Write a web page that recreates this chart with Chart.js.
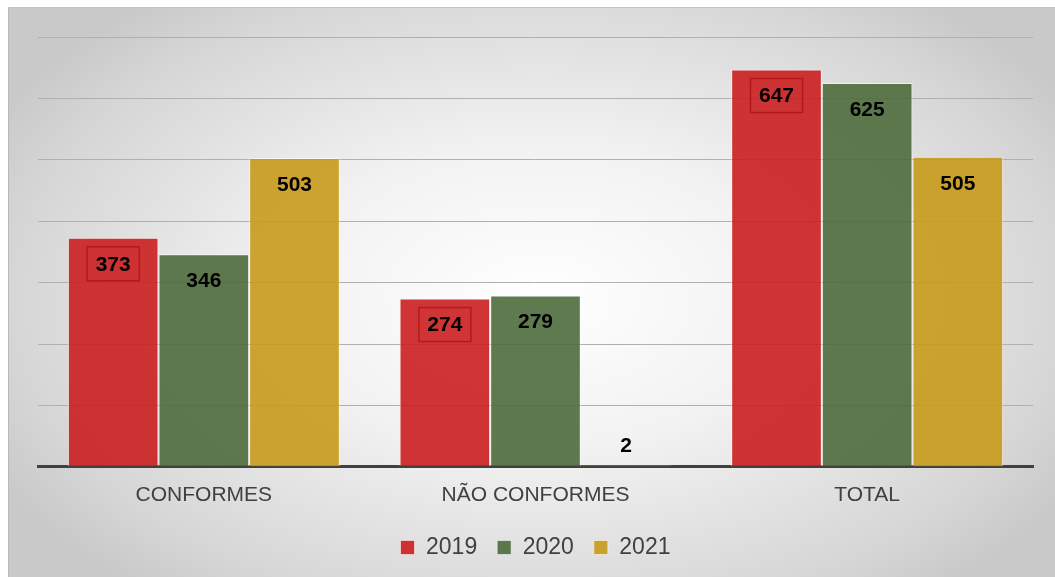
<!DOCTYPE html>
<html>
<head>
<meta charset="utf-8">
<script src="https://cdn.jsdelivr.net/npm/chart.js@4.4.1/dist/chart.umd.min.js"></script>
<style>
    html, body { margin: 0; padding: 0; background: #ffffff; }
    #frame {
        position: absolute; left: 8px; top: 7px; width: 1047px; height: 570px;
        box-sizing: border-box;
        border-left: 1px solid #b8b8b8; border-top: 1px solid #c4c4c4;
        background: radial-gradient(ellipse 620px 380px at 530px 290px, #ffffff 0%, #f2f2f2 40%, #d6d6d6 85%, #c9c9c9 100%);
    }
    #wrap { position: absolute; left: 0; top: 0; width: 1055px; height: 577px; }
</style>
</head>
<body>
<div id="frame"></div>
<div id="wrap"><canvas id="chart"></canvas></div>
<script>
const categories = ['CONFORMES', 'NÃO CONFORMES', 'TOTAL'];
const years = ['2019', '2020', '2021'];
const values2019 = [373, 274, 647];
const values2020 = [346, 279, 625];
const values2021 = [503, 2, 505];
const yTicks = [0, 100, 200, 300, 400, 500, 600, 700];

const fills = ['rgba(204, 30, 30, 0.9)', 'rgba(78, 108, 60, 0.9)', 'rgba(198, 154, 24, 0.9)'];

// draws the value labels, with a box round the 2019 ones
const valueLabels = {
    id: 'valueLabels',
    afterDatasetsDraw(chart) {
        const ctx = chart.ctx;
        ctx.save();
        ctx.font = 'bold 21px "Liberation Sans", Arial, sans-serif';
        ctx.fillStyle = '#000000';
        ctx.textAlign = 'center';
        ctx.textBaseline = 'middle';
        chart.data.datasets.forEach((ds, i) => {
            const meta = chart.getDatasetMeta(i);
            meta.data.forEach((bar, j) => {
                const v = ds.data[j];
                const small = (bar.base - bar.y) < 50;
                const y = small ? bar.y - 20 : bar.y + 26;
                if (i === 0) {
                    ctx.strokeStyle = 'rgba(170, 20, 20, 0.8)';
                    ctx.lineWidth = 1.5;
                    ctx.strokeRect(bar.x - 26, y - 17, 52, 34);
                }
                ctx.fillText(String(v), bar.x, y + 1);
            });
        });
        ctx.restore();
    }
};

new Chart(document.getElementById('chart'), {
    type: 'bar',
    data: {
        labels: categories,
        datasets: [values2019, values2020, values2021].map((vals, i) => ({
            label: years[i],
            data: vals,
            backgroundColor: fills[i],
            borderColor: 'rgba(255, 255, 255, 0.55)',
            borderWidth: 1,
            categoryPercentage: 0.82,
            barPercentage: 1.0
        }))
    },
    options: {
        responsive: true,
        maintainAspectRatio: false,
        animation: false,
        layout: { padding: { left: 38, right: 22, top: 37, bottom: 8 } },
        plugins: {
            legend: {
                position: 'bottom',
                labels: {
                    color: '#404040',
                    font: { size: 23, family: '"Liberation Sans", Arial, sans-serif' },
                    boxWidth: 14,
                    boxHeight: 14,
                    padding: 20
                }
            },
            tooltip: { enabled: false }
        },
        scales: {
            x: {
                grid: { display: false },
                border: { display: true, color: '#404040', width: 3 },
                ticks: {
                    color: '#404040',
                    font: { size: 21, family: '"Liberation Sans", Arial, sans-serif' },
                    padding: 8
                }
            },
            y: {
                min: yTicks[0],
                max: yTicks[yTicks.length - 1],
                afterBuildTicks: (axis) => { axis.ticks = yTicks.map(v => ({ value: v })); },
                ticks: { display: false },
                grid: { color: '#b0b0b0', lineWidth: 1, drawTicks: false },
                border: { display: false }
            }
        }
    },
    plugins: [valueLabels]
});
</script>
</body>
</html>
